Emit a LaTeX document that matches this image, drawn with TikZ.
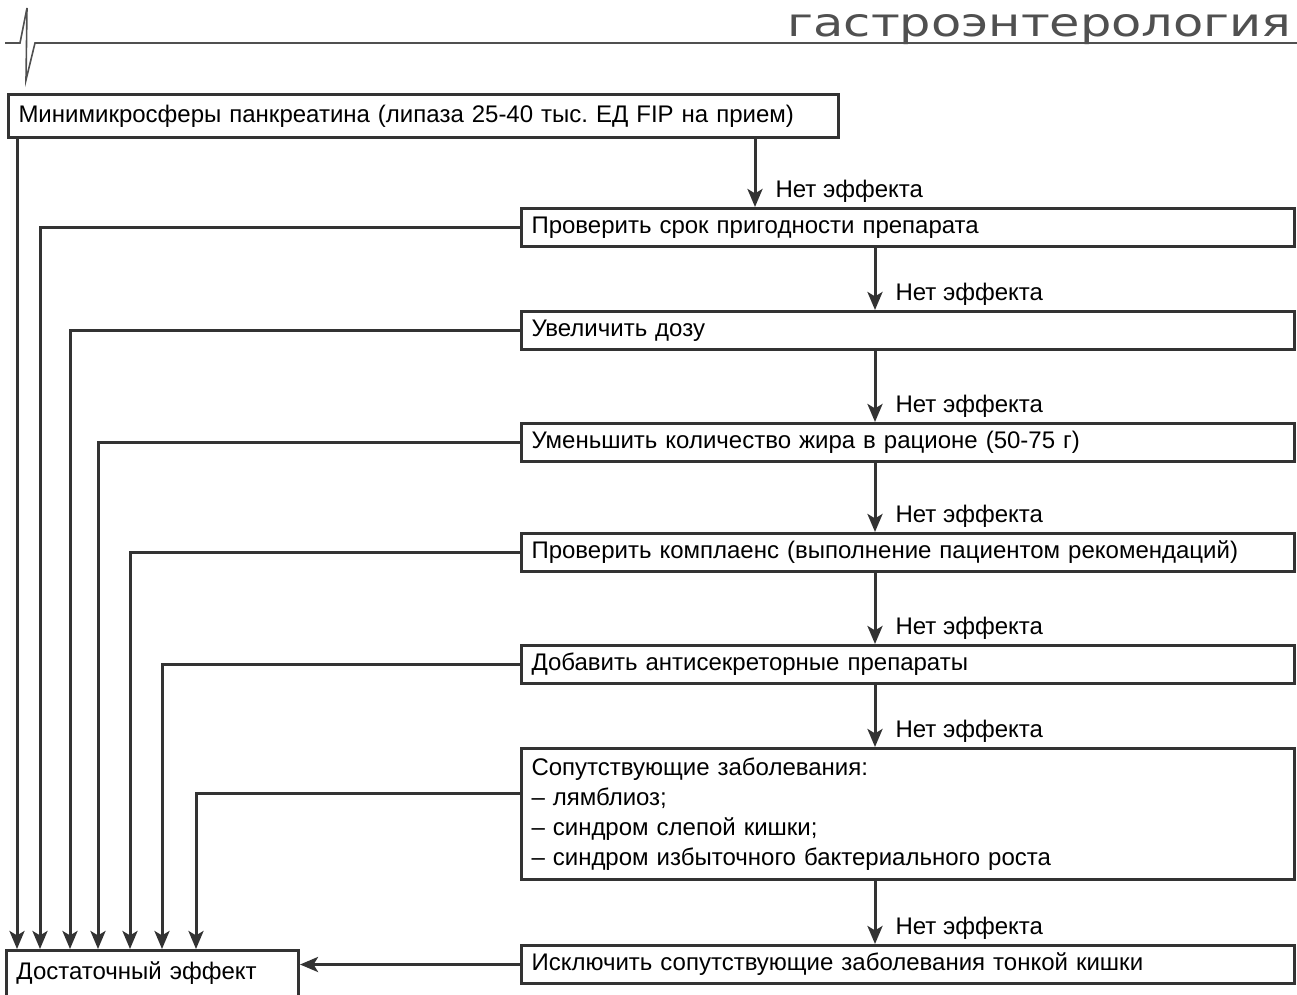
\documentclass[tikz,border=0pt]{standalone}
\usepackage{fontspec}
\setmainfont{Liberation Sans}
\newfontfamily\headfont{DejaVu Sans}
\usetikzlibrary{arrows.meta,positioning}
\definecolor{linegray}{HTML}{333333}
\definecolor{headgray}{HTML}{505050}
\frenchspacing
\begin{document}
\begin{tikzpicture}
 [x=0.5pt,y=-0.5pt,
 term/.style={
  rectangle,
  draw=linegray,
  line width=1.5pt, % border
  anchor=north west,
  minimum height=19pt,
  text width=376.5pt,
  inner xsep=5pt,
  align=left,
  font=\fontsize{12}{15}\selectfont},
 tip/.style={-{Stealth[length=9pt,width=7.5pt,inset=2.2pt]},draw=linegray,line width=1.5pt},
 noeff/.style={anchor=base west,inner sep=0pt,xshift=9.5pt,yshift=4.75pt,font=\fontsize{12}{15}\selectfont}]
\useasboundingbox (0,0) rectangle (1297,995);
\clip (0,0) rectangle (1297,995);
\draw[headgray,line width=0.8pt] (5,43) -- (20,43) -- (27,8) -- (26,80) -- (35,43) -- (1297,43);
\node (head) [anchor=base east,inner sep=0pt,text=headgray] at (1292,37) {\resizebox{252pt}{11pt}{\headfont гастроэнтерология}};
\node (pancreatin) [term,text width=405pt,minimum height=21.5pt] at (7,93) {Минимикросферы панкреатина (липаза 25-40 тыс. ЕД FIP на прием)};
\node (expiry) [term] at (520,207) {Проверить срок пригодности препарата};
\node (dose) [term] at (520,310) {Увеличить дозу};
\node (fat) [term] at (520,422) {Уменьшить количество жира в рационе (50-75 г)};
\node (compliance) [term] at (520,532) {Проверить комплаенс (выполнение пациентом рекомендаций)};
\node (antisecretory) [term] at (520,644) {Добавить антисекреторные препараты};
\node (comorbid) [term,minimum height=65.5pt] at (520,747) {Сопутствующие заболевания:\\ – лямблиоз;\\ – синдром слепой кишки;\\ – синдром избыточного бактериального роста};
\node (exclude) [term] at (520,944) {Исключить сопутствующие заболевания тонкой кишки};
\node (effect) [term,text width=136pt,text height=11.25pt,text depth=12pt] at (5,949) {Достаточный эффект};
\coordinate (axA) at (755,0);
\coordinate (axM) at (875,0);
\draw[tip] (pancreatin.south -| axA) -- (expiry.north -| axA) node[noeff] {Нет эффекта};
\draw[tip] (expiry.south -| axM) -- (dose.north -| axM) node[noeff] {Нет эффекта};
\draw[tip] (dose.south -| axM) -- (fat.north -| axM) node[noeff] {Нет эффекта};
\draw[tip] (fat.south -| axM) -- (compliance.north -| axM) node[noeff] {Нет эффекта};
\draw[tip] (compliance.south -| axM) -- (antisecretory.north -| axM) node[noeff] {Нет эффекта};
\draw[tip] (antisecretory.south -| axM) -- (comorbid.north -| axM) node[noeff] {Нет эффекта};
\draw[tip] (comorbid.south -| axM) -- (exclude.north -| axM) node[noeff] {Нет эффекта};
\coordinate (d1) at ([xshift=6pt]effect.north west);
\coordinate (d2) at ([xshift=17.5pt]effect.north west);
\coordinate (d3) at ([xshift=32.5pt]effect.north west);
\coordinate (d4) at ([xshift=46.5pt]effect.north west);
\coordinate (d5) at ([xshift=62.5pt]effect.north west);
\coordinate (d6) at ([xshift=78.5pt]effect.north west);
\coordinate (d7) at ([xshift=95.5pt]effect.north west);
\draw[tip] (pancreatin.south -| d1) -- (d1);
\draw[tip] (expiry.west) -| (d2);
\draw[tip] (dose.west) -| (d3);
\draw[tip] (fat.west) -| (d4);
\draw[tip] (compliance.west) -| (d5);
\draw[tip] (antisecretory.west) -| (d6);
\draw[tip] ([yshift=-23pt]comorbid.north west) -| (d7);
\draw[tip] (exclude.west) -- (exclude.west -| effect.east);
\end{tikzpicture}
\end{document}
